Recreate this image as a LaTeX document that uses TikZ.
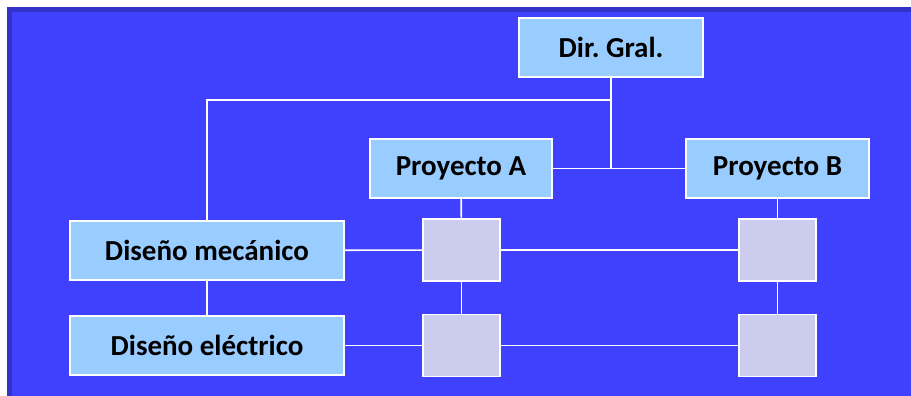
\documentclass[tikz,border=0pt]{standalone}
\usepackage{fontspec}
\setmainfont{Carlito}
\frenchspacing
\definecolor{panel}{RGB}{64,64,255}
\definecolor{panelrim}{RGB}{50,50,200}
\definecolor{unitblue}{RGB}{153,204,255}
\definecolor{cellgrey}{RGB}{204,204,238}
\tikzset{
  unit/.style={draw=white,line width=1.8pt,fill=unitblue,inner sep=0pt,
    minimum height=59pt,font=\fontsize{29}{34}\selectfont\bfseries},
  cell/.style={draw=white,line width=1.8pt,fill=cellgrey,inner sep=0pt,
    minimum width=77pt,minimum height=62pt},
  link/.style={draw=white,line width=1.6pt}
}
\begin{document}
\begin{tikzpicture}[x=1pt,y=-1pt]
        \useasboundingbox (0,0) rectangle (911,396);
        % panel
        \fill[white] (0,0) rectangle (911,396);
        \fill[panelrim] (7,7) rectangle (911,396);
        \fill[panel] (12,12) rectangle (911,396);

        \node[unit,minimum width=184pt] (dir) at (611,47.5) {Dir. Gral.};
        \node[unit,minimum width=182pt] (pa) at (461,168.5) {Proyecto A};
        \node[unit,minimum width=183pt] (pb) at (777.5,168.5) {Proyecto B};
        \node[unit,minimum width=274pt] (dm) at (207,250.5) {Diseño mecánico};
        \node[unit,minimum width=274pt] (de) at (207,345.5) {Diseño eléctrico};

        \node[cell] (a1) at (461.5,250) {};
        \node[cell] (a2) at (461.5,345.5) {};
        \node[cell] (b1) at (777.5,250) {};
        \node[cell] (b2) at (777.5,345.5) {};

        \coordinate (jn) at (611,100);

        \draw[link] (dir) -- (dir |- pa);
        \draw[link] (pa) -- (pb);
        \draw[link] (jn) -| (dm);
        \draw[link] (dm) -- (de);
        \draw[link] (pa) -- (a1);
        \draw[link] (a1) -- (a2);
        \draw[link] (pb) -- (b1);
        \draw[link] (b1) -- (b2);
        \draw[link] (dm) -- (a1);
        \draw[link] (a1) -- (b1);
        \draw[link] (de) -- (a2);
        \draw[link] (a2) -- (b2);

    \end{tikzpicture}
\end{document}
